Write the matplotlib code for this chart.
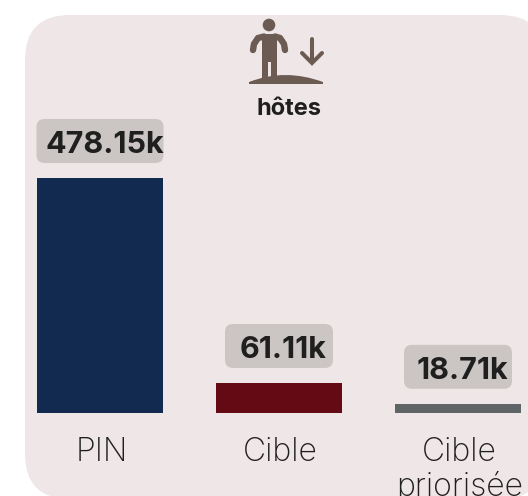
import matplotlib
matplotlib.use('Agg')
import matplotlib.pyplot as plt
from matplotlib.patches import FancyBboxPatch, Circle, Polygon, PathPatch
from matplotlib.path import Path

# --- dados ---
categorias = ['PIN', 'Cible', 'Cible\npriorisée']
valores = [478.15, 61.11, 18.71]
rotulos = ['478.15k', '61.11k', '18.71k']
cores = ['#132a50', '#630a14', '#5f6566']
titulo = 'hôtes'

W, H = 528, 496
FUNDO = '#efe6e7'
CAIXA = '#cbc6c4'
ICONE = '#6b5b53'
TEXTO = '#1f1f1f'

fig = plt.figure(figsize=(W / 100, H / 100), dpi=100, facecolor='white')

# eixo de fundo em pixels (painel e icone)
bg = fig.add_axes([0, 0, 1, 1])
bg.set_xlim(0, W)
bg.set_ylim(H, 0)
bg.axis('off')

R = 45
bg.add_patch(FancyBboxPatch((25 + R, 15 + R), 545 - 25 - 2 * R, 499 - 15 - 2 * R,
                            boxstyle=f'round,pad={R},rounding_size={R}',
                            fc=FUNDO, ec='none'))

# icone: pessoa e seta
bg.add_patch(Circle((269, 25), 6.3, fc=ICONE, ec='none'))
pessoa = [(262, 34), (277, 34), (277, 78), (271, 78), (271, 62), (268, 62), (268, 78), (262, 78)]
bg.add_patch(Polygon(pessoa, closed=True, fc=ICONE, ec='none'))
bg.plot([253, 254, 258, 264], [50, 44, 38, 36.5], color=ICONE, lw=4.6, solid_capstyle='round', solid_joinstyle='round')
bg.plot([285, 284, 280, 275], [50, 44, 38, 36.5], color=ICONE, lw=4.6, solid_capstyle='round', solid_joinstyle='round')
chao = Path([(249, 82), (285, 68), (323, 82), (323, 84), (249, 84), (249, 82)],
            [Path.MOVETO, Path.CURVE3, Path.CURVE3, Path.LINETO, Path.LINETO, Path.CLOSEPOLY])
bg.add_patch(PathPatch(chao, fc=ICONE, ec='none'))
bg.plot([312, 312], [39, 62], color=ICONE, lw=2.9, solid_capstyle='round')
bg.plot([302, 312, 322], [53, 63, 53], color=ICONE, lw=2.9, solid_capstyle='round', solid_joinstyle='miter')
bg.text(289.5, 115, titulo, ha='center', va='baseline', fontsize=17, fontweight='bold',
        family='Inter', color=TEXTO)

# eixo das barras: escala linear, 179 px entre categorias, 0.4915 px por k
ESC_X, ESC_Y = 179, 0.4915
ax = fig.add_axes([0, 0, 1, 1])
ax.patch.set_alpha(0)
ax.axis('off')
ax.set_xlim((0 - 100) / ESC_X, (W - 100) / ESC_X)
ax.set_ylim(-(H - 413) / ESC_Y, 413 / ESC_Y)

pos = list(range(len(valores)))
ax.bar(pos, valores, width=126 / ESC_X, color=cores, linewidth=0)

larguras = [127, 108, 108]
for x, v, rot, cat, larg in zip(pos, valores, rotulos, categorias, larguras):
    # caixa do rotulo, 15 px acima da barra
    base = v + 15 / ESC_Y
    alt = 44 / ESC_Y
    r = 8
    bw = larg - 2 * r
    bh = 44 - 2 * r
    cx = 100 + x * ESC_X
    cy = 413 - (base * ESC_Y) - 22
    bg.add_patch(FancyBboxPatch((cx - bw / 2, cy - bh / 2), bw, bh,
                                boxstyle=f'round,pad={r},rounding_size={r}',
                                fc=CAIXA, ec='none'))
    ax.text(x + 4.5 / ESC_X, base + (alt - 5) / 2, rot, ha='center', va='center_baseline', fontsize=22,
            fontweight='bold', family='Inter', color=TEXTO, zorder=5)
    linhas = cat.split('\n')
    for i, l in enumerate(linhas):
        ax.text(x + 1.5 / ESC_X, -(461 - 413 + i * 35) / ESC_Y, l, ha='center', va='baseline', fontsize=23,
                family='Inter', fontweight='light', color=TEXTO, clip_on=False)

fig.savefig('out.png', dpi=100)
